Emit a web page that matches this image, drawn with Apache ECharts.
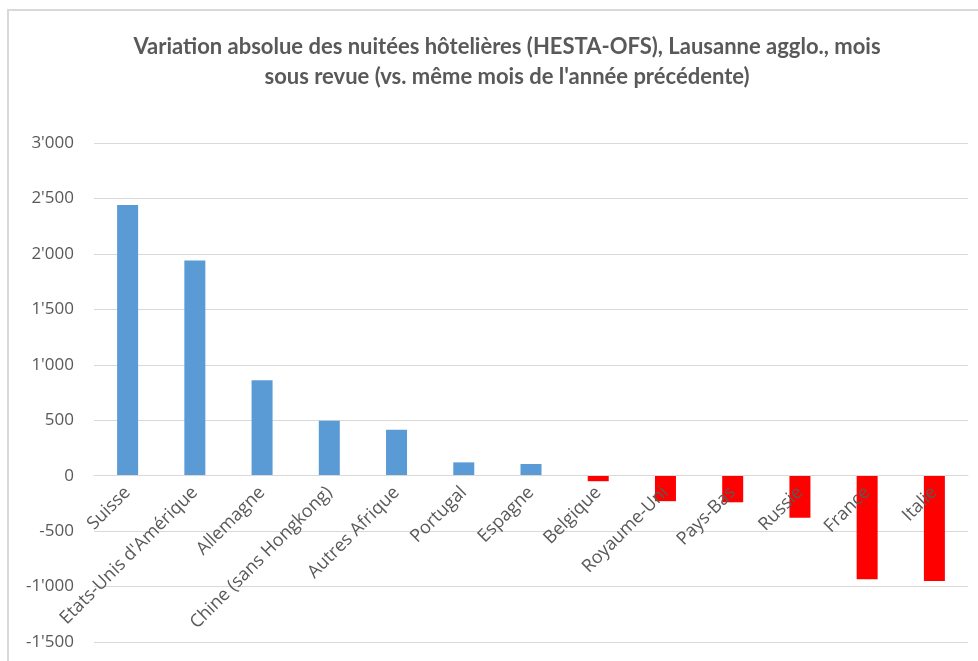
<!DOCTYPE html>
<html>
<head>
<meta charset="utf-8">
<script src="https://cdn.jsdelivr.net/npm/echarts@6/dist/echarts.min.js"></script>
<style>
  html, body { margin: 0; padding: 0; background: #fff; }
  #chart { width: 978px; height: 661px; }
</style>
</head>
<body>
<div id="chart"></div>
<script>
// Data
const countries = [
  'Suisse', "Etats-Unis d'Amérique", 'Allemagne', 'Chine (sans Hongkong)',
  'Autres Afrique', 'Portugal', 'Espagne', 'Belgique', 'Royaume-Uni',
  'Pays-Bas', 'Russie', 'France', 'Italie'
];
const variation = [2440, 1940, 860, 495, 415, 120, 105, -50, -230, -240, -380, -935, -950];

const blue = '#5B9BD5';
const red = '#FF0000';
const grey = '#595959';

const fmt = v => {
  const s = Math.abs(v).toString().replace(/\B(?=(\d{3})+(?!\d))/g, "'");
  return (v < 0 ? '-' : '') + s;
};

// grid geometry, used to pin the category labels on the zero line
const gridTop = 143, gridBottom = 19, yMin = -1500, yMax = 3000;
const plotH = 661 - gridTop - gridBottom;
const zeroOffset = -plotH * (0 - yMin) / (yMax - yMin);

const chart = echarts.init(document.getElementById('chart'), null, { renderer: 'canvas' });

chart.setOption({
  animation: false,
  backgroundColor: '#fff',
  title: {
    text: "Variation absolue des nuitées hôtelières (HESTA-OFS), Lausanne agglo., mois\nsous revue (vs. même mois de l'année précédente)",
    left: 502,
    top: 27,
    textAlign: 'center',
    textStyle: {
      fontFamily: 'Lato',
      fontWeight: 'bold',
      fontSize: 22,
      lineHeight: 30,
      color: grey
    }
  },
  graphic: [
    {
      type: 'polyline',
      shape: { points: [[8, 661], [8, 10], [978, 10]] },
      style: { stroke: '#d9d9d9', lineWidth: 2, fill: null },
      silent: true
    }
  ],
  grid: {
    left: 94,
    right: 10,
    top: gridTop,
    bottom: gridBottom,
    outerBoundsMode: 'none',
    containLabel: false
  },
  xAxis: {
    type: 'category',
    data: countries,
    position: 'bottom',
    offset: zeroOffset,
    z: 5,
    axisLine: { onZero: false, lineStyle: { color: '#d9d9d9', width: 1 } },
    axisTick: { show: false },
    axisLabel: {
      rotate: 45,
      interval: 0,
      margin: 14,
      color: grey,
      fontFamily: 'Open Sans',
      fontSize: 18
    }
  },
  yAxis: {
    type: 'value',
    min: yMin,
    max: yMax,
    interval: 500,
    axisLine: { show: false },
    axisTick: { show: false },
    splitLine: { lineStyle: { color: '#d9d9d9', width: 1 } },
    axisLabel: {
      formatter: fmt,
      margin: 20,
      color: grey,
      fontFamily: 'Open Sans',
      fontSize: 17
    }
  },
  series: [
    {
      type: 'bar',
      barWidth: 21,
      data: variation.map(v => ({
        value: v,
        itemStyle: { color: v >= 0 ? blue : red }
      }))
    }
  ]
});
</script>
</body>
</html>
